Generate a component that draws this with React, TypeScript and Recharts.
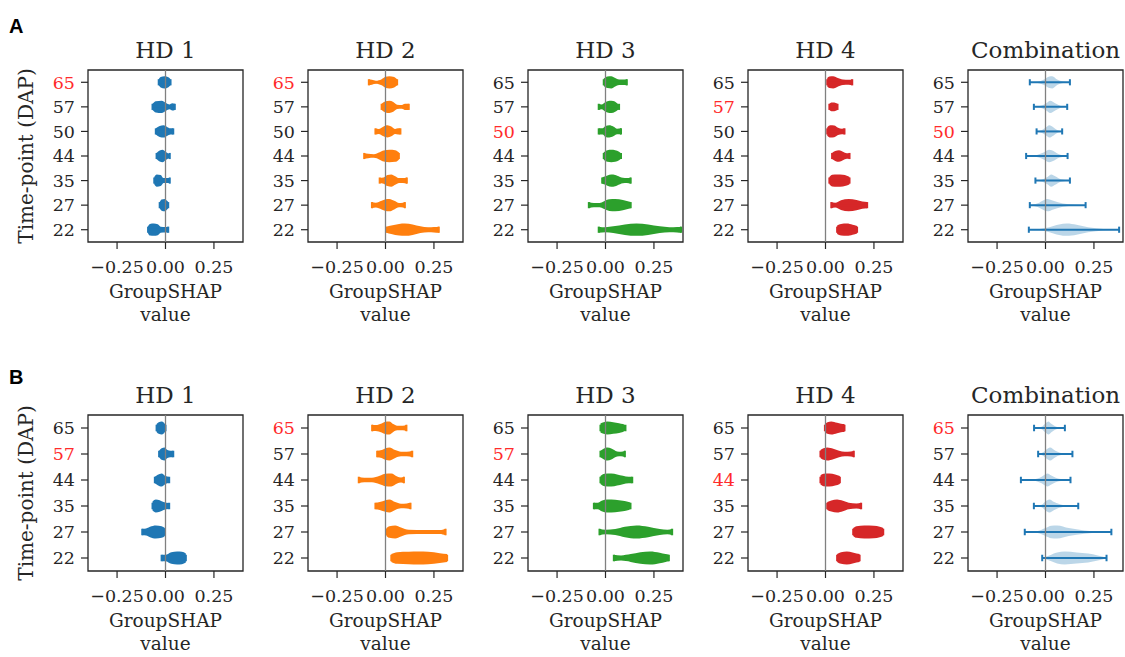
import React from "react";
import {
  ComposedChart,
  Area,
  Line,
  XAxis,
  YAxis,
  ReferenceLine,
  ReferenceArea,
} from "recharts";

// each violin is a list of [GroupSHAP value, relative half-width 0..1]
type Profile = [number, number][];

const timesA = ["65", "57", "50", "44", "35", "27", "22"];
const timesB = ["65", "57", "44", "35", "27", "22"];
const panelTitles = ["HD 1", "HD 2", "HD 3", "HD 4", "Combination"];
const xTicks = [-0.25, 0, 0.25];
const redA = ["65", "65", "50", "57", "50"];
const redB = ["57", "65", "57", "44", "65"];

const hd1A: Profile[] = [
  [[-0.035, 0.5], [-0.025, 0.85], [-0.005, 1], [0.015, 0.8], [0.026, 0.5]],
  [[-0.067, 0.5], [-0.05, 0.9], [-0.02, 1], [0.005, 0.6], [0.02, 0.4], [0.035, 0.6], [0.048, 0.5]],
  [[-0.05, 0.5], [-0.03, 0.9], [-0.01, 1], [0.01, 0.7], [0.025, 0.5], [0.04, 0.5]],
  [[-0.046, 0.5], [-0.03, 0.9], [-0.015, 1], [0.0, 0.7], [0.012, 0.45], [0.022, 0.4]],
  [[-0.058, 0.6], [-0.045, 1], [-0.025, 0.9], [-0.01, 0.4], [0.01, 0.4], [0.022, 0.45]],
  [[-0.03, 0.5], [-0.02, 0.9], [-0.005, 1], [0.008, 0.7], [0.014, 0.5]],
  [[-0.09, 0.6], [-0.08, 0.95], [-0.06, 1], [-0.04, 0.9], [-0.025, 0.5], [0.0, 0.45], [0.014, 0.5]],
];
const hd2A: Profile[] = [
  [[-0.086, 0.5], [-0.07, 0.4], [-0.05, 0.25], [-0.02, 0.5], [0.0, 0.9], [0.02, 1], [0.045, 0.85], [0.06, 0.5]],
  [[-0.02, 0.5], [0.0, 0.9], [0.02, 1], [0.04, 0.8], [0.06, 0.35], [0.085, 0.3], [0.1, 0.5], [0.12, 0.5]],
  [[-0.052, 0.5], [-0.035, 0.4], [-0.01, 0.8], [0.01, 1], [0.03, 0.8], [0.05, 0.4], [0.065, 0.5], [0.077, 0.5]],
  [[-0.11, 0.5], [-0.09, 0.35], [-0.06, 0.3], [-0.03, 0.6], [-0.01, 0.9], [0.02, 1], [0.05, 0.95], [0.069, 0.6]],
  [[-0.03, 0.45], [-0.01, 0.5], [0.01, 0.9], [0.03, 1], [0.05, 0.7], [0.07, 0.4], [0.09, 0.4], [0.11, 0.5]],
  [[-0.07, 0.5], [-0.05, 0.4], [-0.02, 0.7], [0.0, 0.95], [0.02, 1], [0.045, 0.7], [0.07, 0.35], [0.09, 0.4], [0.1, 0.5]],
  [[0.005, 0.5], [0.03, 0.7], [0.07, 0.95], [0.1, 1], [0.14, 0.85], [0.18, 0.55], [0.22, 0.4], [0.25, 0.45], [0.275, 0.5]],
];
const hd3A: Profile[] = [
  [[-0.009, 0.6], [0.01, 0.95], [0.03, 1], [0.05, 0.7], [0.07, 0.45], [0.09, 0.45], [0.11, 0.5]],
  [[-0.035, 0.5], [-0.02, 0.4], [0.0, 0.8], [0.02, 1], [0.04, 0.95], [0.06, 0.6], [0.07, 0.35]],
  [[-0.035, 0.5], [-0.015, 0.5], [0.0, 0.9], [0.02, 1], [0.04, 0.8], [0.06, 0.45], [0.08, 0.5]],
  [[-0.009, 0.6], [0.01, 0.95], [0.03, 1], [0.05, 0.95], [0.07, 0.7], [0.08, 0.45]],
  [[-0.017, 0.5], [0.0, 0.7], [0.02, 0.95], [0.04, 1], [0.06, 0.8], [0.09, 0.45], [0.11, 0.4], [0.13, 0.5]],
  [[-0.086, 0.5], [-0.06, 0.35], [-0.03, 0.35], [-0.01, 0.6], [0.02, 0.95], [0.05, 1], [0.09, 0.85], [0.12, 0.6], [0.13, 0.5]],
  [[-0.035, 0.5], [0.0, 0.4], [0.04, 0.55], [0.1, 0.85], [0.16, 1], [0.22, 0.85], [0.28, 0.55], [0.33, 0.4], [0.37, 0.45], [0.39, 0.5]],
];
const hd4A: Profile[] = [
  [[0.009, 0.7], [0.02, 0.95], [0.04, 1], [0.06, 0.75], [0.09, 0.45], [0.12, 0.4], [0.138, 0.5]],
  [[0.02, 0.5], [0.03, 0.7], [0.045, 0.7], [0.062, 0.5]],
  [[0.009, 0.7], [0.025, 1], [0.045, 0.95], [0.065, 0.6], [0.085, 0.45], [0.098, 0.5]],
  [[0.034, 0.5], [0.05, 0.8], [0.07, 0.95], [0.09, 0.7], [0.11, 0.45], [0.124, 0.5]],
  [[0.02, 0.6], [0.035, 0.95], [0.06, 1], [0.09, 0.95], [0.11, 0.8], [0.124, 0.6]],
  [[0.03, 0.5], [0.05, 0.4], [0.08, 0.8], [0.12, 1], [0.16, 0.85], [0.19, 0.6], [0.215, 0.5]],
  [[0.06, 0.7], [0.08, 0.95], [0.11, 1], [0.14, 0.8], [0.163, 0.6]],
];
const combA: Profile[] = [
  [[-0.081, 0.03], [-0.04, 0.1], [-0.01, 0.4], [0.02, 0.95], [0.035, 1], [0.06, 0.45], [0.09, 0.12], [0.126, 0.03]],
  [[-0.06, 0.03], [-0.03, 0.12], [0.0, 0.5], [0.025, 1], [0.05, 0.6], [0.08, 0.15], [0.112, 0.03]],
  [[-0.046, 0.04], [-0.02, 0.2], [0.0, 0.6], [0.02, 1], [0.04, 0.7], [0.06, 0.25], [0.086, 0.04]],
  [[-0.1, 0.03], [-0.05, 0.12], [-0.01, 0.55], [0.02, 1], [0.045, 0.75], [0.07, 0.3], [0.114, 0.03]],
  [[-0.052, 0.03], [-0.02, 0.15], [0.01, 0.6], [0.03, 1], [0.05, 0.7], [0.08, 0.2], [0.126, 0.03]],
  [[-0.081, 0.04], [-0.04, 0.3], [-0.01, 0.8], [0.01, 1], [0.04, 0.7], [0.09, 0.25], [0.15, 0.08], [0.207, 0.03]],
  [[-0.086, 0.03], [-0.03, 0.1], [0.02, 0.4], [0.07, 0.85], [0.11, 1], [0.16, 0.8], [0.22, 0.4], [0.3, 0.12], [0.38, 0.03]],
];

const hd1B: Profile[] = [
  [[-0.046, 0.6], [-0.035, 0.9], [-0.02, 1], [-0.008, 0.8], [0.0, 0.5]],
  [[-0.033, 0.5], [-0.02, 0.9], [-0.005, 1], [0.01, 0.6], [0.025, 0.5], [0.04, 0.5]],
  [[-0.055, 0.5], [-0.04, 0.8], [-0.02, 1], [0.0, 0.6], [0.019, 0.45]],
  [[-0.067, 0.7], [-0.05, 1], [-0.03, 0.9], [-0.01, 0.6], [0.019, 0.45]],
  [[-0.12, 0.5], [-0.1, 0.55], [-0.08, 0.8], [-0.05, 1], [-0.02, 0.9], [-0.003, 0.6]],
  [[-0.02, 0.5], [0.0, 0.5], [0.03, 0.9], [0.06, 1], [0.085, 0.95], [0.105, 0.7]],
];
const hd2B: Profile[] = [
  [[-0.069, 0.5], [-0.05, 0.45], [-0.02, 0.7], [0.0, 0.95], [0.02, 1], [0.04, 0.6], [0.06, 0.35], [0.09, 0.35], [0.108, 0.5]],
  [[-0.043, 0.5], [-0.02, 0.6], [0.0, 0.9], [0.02, 1], [0.05, 0.6], [0.08, 0.35], [0.11, 0.35], [0.138, 0.5]],
  [[-0.138, 0.5], [-0.11, 0.35], [-0.07, 0.35], [-0.03, 0.65], [0.0, 0.95], [0.03, 1], [0.06, 0.55], [0.08, 0.4], [0.095, 0.5]],
  [[-0.052, 0.5], [-0.03, 0.6], [0.0, 0.9], [0.02, 1], [0.05, 0.6], [0.08, 0.35], [0.11, 0.4], [0.129, 0.5]],
  [[0.005, 0.6], [0.02, 0.9], [0.05, 1], [0.08, 0.7], [0.12, 0.35], [0.2, 0.3], [0.28, 0.3], [0.31, 0.5]],
  [[0.03, 0.6], [0.06, 0.9], [0.12, 0.95], [0.17, 1], [0.22, 0.95], [0.28, 0.75], [0.318, 0.6]],
];
const hd3B: Profile[] = [
  [[-0.026, 0.7], [-0.01, 0.9], [0.01, 1], [0.04, 0.9], [0.07, 0.75], [0.09, 0.6], [0.103, 0.4]],
  [[-0.026, 0.5], [-0.01, 0.8], [0.01, 1], [0.03, 0.85], [0.06, 0.4], [0.08, 0.35], [0.1, 0.5]],
  [[-0.026, 0.6], [-0.005, 0.95], [0.03, 1], [0.06, 0.85], [0.09, 0.65], [0.12, 0.5], [0.138, 0.5]],
  [[-0.06, 0.5], [-0.04, 0.5], [-0.02, 0.8], [0.01, 1], [0.05, 0.95], [0.09, 0.8], [0.12, 0.6], [0.129, 0.5]],
  [[-0.031, 0.5], [0.0, 0.35], [0.05, 0.45], [0.1, 0.8], [0.16, 1], [0.22, 0.8], [0.28, 0.45], [0.32, 0.35], [0.344, 0.5]],
  [[0.043, 0.5], [0.08, 0.4], [0.13, 0.6], [0.18, 0.9], [0.23, 1], [0.28, 0.8], [0.31, 0.6], [0.327, 0.5]],
];
const hd4B: Profile[] = [
  [[-0.003, 0.6], [0.01, 0.9], [0.03, 1], [0.06, 0.8], [0.08, 0.65], [0.098, 0.6]],
  [[-0.026, 0.6], [-0.01, 0.9], [0.01, 1], [0.04, 0.8], [0.07, 0.5], [0.1, 0.35], [0.13, 0.4], [0.146, 0.5]],
  [[-0.026, 0.7], [-0.01, 0.95], [0.02, 1], [0.05, 0.85], [0.074, 0.6]],
  [[0.009, 0.6], [0.03, 0.85], [0.06, 1], [0.09, 0.8], [0.12, 0.5], [0.16, 0.4], [0.184, 0.5]],
  [[0.143, 0.6], [0.16, 0.9], [0.2, 1], [0.25, 0.95], [0.28, 0.8], [0.298, 0.6]],
  [[0.06, 0.6], [0.08, 0.9], [0.11, 1], [0.14, 0.85], [0.16, 0.7], [0.176, 0.6]],
];
const combB: Profile[] = [
  [[-0.059, 0.03], [-0.02, 0.2], [0.0, 0.7], [0.015, 1], [0.03, 0.65], [0.06, 0.15], [0.1, 0.03]],
  [[-0.038, 0.04], [-0.01, 0.3], [0.01, 0.8], [0.025, 1], [0.045, 0.6], [0.08, 0.15], [0.139, 0.03]],
  [[-0.127, 0.03], [-0.06, 0.1], [-0.02, 0.5], [0.01, 1], [0.03, 0.7], [0.07, 0.2], [0.129, 0.03]],
  [[-0.06, 0.03], [-0.02, 0.2], [0.0, 0.7], [0.02, 1], [0.045, 0.6], [0.09, 0.15], [0.169, 0.03]],
  [[-0.107, 0.03], [-0.04, 0.15], [0.0, 0.6], [0.03, 0.95], [0.06, 1], [0.12, 0.6], [0.2, 0.25], [0.28, 0.08], [0.34, 0.03]],
  [[-0.017, 0.05], [0.02, 0.4], [0.06, 0.85], [0.1, 1], [0.16, 0.85], [0.22, 0.7], [0.27, 0.4], [0.315, 0.05]],
];

const colors = ["#1f77b4", "#ff7f0e", "#2ca02c", "#d62728", "#1f77b4"];
const rowA = [hd1A, hd2A, hd3A, hd4A, combA];
const rowB = [hd1B, hd2B, hd3B, hd4B, combB];

const SERIF = "'DejaVu Serif', serif";
const INK = "#262626";
const PANEL_LEFT = [88, 308, 528, 748, 968];
const PLOT_W = 155;
const AXIS_W = 70;
const TICK_FS = 17.5;
const LABEL_FS = 18.5;

const fmtX = (v: number) => (v < 0 ? "\u2212" : "") + Math.abs(v).toFixed(2);

interface PanelProps {
  left: number;
  top: number;
  plotH: number;
  times: string[];
  violins: Profile[];
  color: string;
  light: boolean;
  red: string;
}

function Panel({ left, top, plotH, times, violins, color, light, red }: PanelProps) {
  const n = times.length;
  const positions = times.map((_, i) => n - i);

  const YTick = (props: any) => {
    const { x, y, payload } = props;
    const label = times[n - payload.value];
    return (
      <text
        x={x}
        y={y}
        dy="0.36em"
        textAnchor="end"
        fontFamily={SERIF}
        fontSize={TICK_FS}
        fill={label === red ? "#ff2b2b" : INK}
      >
        {label}
      </text>
    );
  };

  const series: React.ReactElement[] = [];
  violins.forEach((prof, i) => {
    const pos = n - i;
    const body = prof.map(([x, w]) => ({ x, band: [pos - w * 0.25, pos + w * 0.25] }));
    const lo = prof[0][0];
    const hi = prof[prof.length - 1][0];
    series.push(
      <Area
        key={`a${i}`}
        data={body}
        dataKey="band"
        type="monotone"
        stroke="none"
        fill={color}
        fillOpacity={light ? 0.3 : 1}
        dot={false}
        activeDot={false}
        isAnimationActive={false}
      />
    );
    // extrema bar and end caps, as matplotlib's violinplot draws them
    const segs = [
      [{ x: lo, y: pos }, { x: hi, y: pos }],
      [{ x: lo, y: pos - 0.125 }, { x: lo, y: pos + 0.125 }],
      [{ x: hi, y: pos - 0.125 }, { x: hi, y: pos + 0.125 }],
    ];
    segs.forEach((seg, j) => {
      series.push(
        <Line
          key={`l${i}-${j}`}
          data={seg}
          dataKey="y"
          type="linear"
          stroke={color}
          strokeWidth={2}
          dot={false}
          activeDot={false}
          isAnimationActive={false}
        />
      );
    });
  });

  return (
    <div style={{ position: "absolute", left: left - AXIS_W, top: top - 10 }}>
      <ComposedChart
        width={AXIS_W + PLOT_W + 6}
        height={plotH + 10 + 40}
        margin={{ top: 10, right: 6, bottom: 0, left: 0 }}
      >
        <XAxis
          type="number"
          dataKey="x"
          domain={[-0.4, 0.4]}
          ticks={xTicks}
          interval={0}
          allowDataOverflow
          tickFormatter={fmtX}
          axisLine={false}
          tickSize={7}
          tickMargin={12}
          height={40}
          tickLine={{ stroke: INK, strokeWidth: 1.2 }}
          tick={{ fill: INK, fontSize: TICK_FS, fontFamily: SERIF }}
        />
        <YAxis
          type="number"
          domain={[0.5, n + 0.5]}
          ticks={positions}
          interval={0}
          allowDataOverflow
          width={AXIS_W}
          axisLine={false}
          tickSize={7}
          tickMargin={6}
          tickLine={{ stroke: INK, strokeWidth: 1.2 }}
          tick={<YTick />}
        />
        {series}
        <ReferenceLine x={0} stroke="#808080" strokeWidth={1.3} />
        <ReferenceArea
          x1={-0.4}
          x2={0.4}
          y1={0.5}
          y2={n + 0.5}
          fill="none"
          fillOpacity={0}
          stroke={INK}
          strokeWidth={1.3}
          strokeOpacity={1}
        />
      </ComposedChart>
    </div>
  );
}

function RowText({ top, bottom, letter, letterY }: { top: number; bottom: number; letter: string; letterY: number }) {
  const mid = (top + bottom) / 2;
  return (
    <g>
      <text x={9} y={letterY} fontFamily="'Liberation Sans', Arial, sans-serif" fontWeight="bold" fontSize={20} fill="#000">
        {letter}
      </text>
      <text
        x={0}
        y={0}
        transform={`translate(33, ${mid}) rotate(-90)`}
        textAnchor="middle"
        fontFamily={SERIF}
        fontSize={20}
        fill={INK}
      >
        Time-point (DAP)
      </text>
      {panelTitles.map((t, i) => (
        <g key={t}>
          <text x={PANEL_LEFT[i] + PLOT_W / 2} y={top - 12} textAnchor="middle" fontFamily={SERIF} fontSize={23} fill={INK}>
            {t}
          </text>
          <text x={PANEL_LEFT[i] + PLOT_W / 2} y={bottom + 56} textAnchor="middle" fontFamily={SERIF} fontSize={LABEL_FS} fill={INK}>
            GroupSHAP
          </text>
          <text x={PANEL_LEFT[i] + PLOT_W / 2} y={bottom + 79} textAnchor="middle" fontFamily={SERIF} fontSize={LABEL_FS} fill={INK}>
            value
          </text>
        </g>
      ))}
    </g>
  );
}

export default function App() {
  const aTop = 70;
  const aH = 172;
  const bTop = 415;
  const bH = 156;
  return (
    <div style={{ position: "absolute", left: 0, top: 0, width: 1125, height: 657, background: "#fff" }}>
      <svg width={1125} height={657} style={{ position: "absolute", left: 0, top: 0 }}>
        <RowText top={aTop} bottom={aTop + aH} letter="A" letterY={33} />
        <RowText top={bTop} bottom={bTop + bH} letter="B" letterY={384} />
      </svg>
      {rowA.map((v, i) => (
        <Panel
          key={`A${i}`}
          left={PANEL_LEFT[i]}
          top={aTop}
          plotH={aH}
          times={timesA}
          violins={v}
          color={colors[i]}
          light={i === 4}
          red={redA[i]}
        />
      ))}
      {rowB.map((v, i) => (
        <Panel
          key={`B${i}`}
          left={PANEL_LEFT[i]}
          top={bTop}
          plotH={bH}
          times={timesB}
          violins={v}
          color={colors[i]}
          light={i === 4}
          red={redB[i]}
        />
      ))}
    </div>
  );
}
